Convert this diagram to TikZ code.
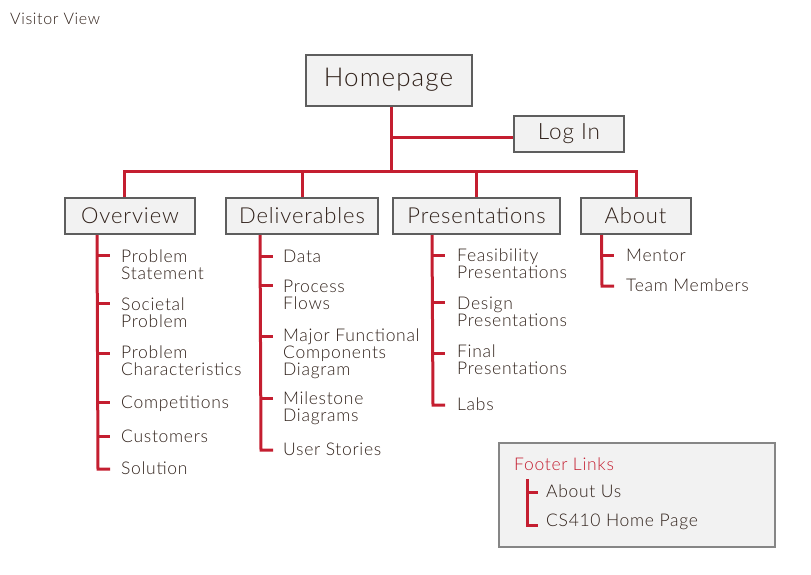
\documentclass[tikz,border=0pt]{standalone}
\usepackage{fontspec}
\setmainfont{Lato Light}[LetterSpace=4]
\definecolor{txt}{HTML}{2F2019}
\definecolor{lred}{HTML}{C41E30}
\definecolor{boxfill}{HTML}{F2F2F2}
\definecolor{boxline}{HTML}{5E5E5E}
\tikzset{
  link/.style={draw=lred, line width=3pt},
  pagebox/.style={draw=boxline, line width=2pt, fill=boxfill, inner sep=0pt, text=txt, font=\fontsize{22}{22}\selectfont},
  item/.style={text=txt, inner sep=0pt, anchor=north west, align=left, font=\fontsize{17.5}{17}\selectfont},
}
\begin{document}
\begin{tikzpicture}[x=1pt,y=-1pt]
\useasboundingbox (0,0) rectangle (811,574);
\node[text=txt, inner sep=0pt, anchor=base west, font=\fontsize{16}{16}\selectfont] (title) at (10,24) {Visitor View};

\node[pagebox, minimum width=166pt, minimum height=51pt, font=\fontsize{26}{26}\selectfont] (home) at (388.5,80) {Homepage};
\node[pagebox, minimum width=110pt, minimum height=36pt, font=\fontsize{22.5}{22.5}\selectfont] (login) at (569,134) {Log In};
\node[pagebox, minimum width=130pt, minimum height=36pt] (overview) at (130,216) {Overview};
\node[pagebox, minimum width=152pt, minimum height=36pt] (deliv) at (302,216) {Deliverables};
\node[pagebox, minimum width=167pt, minimum height=36pt] (pres) at (476.5,216) {Presentations};
\node[pagebox, minimum width=110pt, minimum height=36pt] (about) at (635.5,216) {About};

\coordinate (bar) at (391,171.5);
\draw[link] ([xshift=2.5pt]home.south) -- (bar);
\draw[link] ([xshift=2.5pt]home.south |- 0,137) -- ([yshift=-3pt]login.west);
\draw[link] ([xshift=-6pt]overview.north) |- (bar) -| ([xshift=0.5pt]about.north);
\draw[link] (deliv.north) -- (deliv.north |- bar);
\draw[link] (pres.north) -- (pres.north |- bar);

% Overview list
\node[item] (o1) at (121,250) {Problem\\Statement};
\node[item] (o2) at (121,298) {Societal\\Problem};
\node[item] (o3) at (121,346) {Problem\\Characteristics};
\node[item] (o4) at (121,396) {Competitions};
\node[item] (o5) at (121,430) {Customers};
\node[item] (o6) at (121,462) {Solution};
\draw[link] ([xshift=33pt]overview.south west) -- (98,469) -- (110,469);
\foreach \y in {255,303,353,402,436} \draw[link] (98,\y) -- (110,\y);

% Deliverables list
\node[item] (d1) at (283,250) {Data};
\node[item] (d2) at (283,280) {Process\\Flows};
\node[item] (d3) at (283,329) {Major Functional\\Components\\Diagram};
\node[item] (d4) at (283,392) {Milestone\\Diagrams};
\node[item] (d5) at (283,443) {User Stories};
\draw[link] ([xshift=35pt]deliv.south west) -- (261,450) -- (273,450);
\foreach \y in {256,285,336,398} \draw[link] (261,\y) -- (273,\y);

% Presentations list
\node[item] (p1) at (457,249) {Feasibility\\Presentations};
\node[item] (p2) at (457,297) {Design\\Presentations};
\node[item] (p3) at (457,345) {Final\\Presentations};
\node[item] (p4) at (457,398) {Labs};
\draw[link] ([xshift=40pt]pres.south west) -- (433,405) -- (445,405);
\foreach \y in {255,302,353} \draw[link] (433,\y) -- (445,\y);

% About list
\node[item] (a1) at (626,249) {Mentor};
\node[item] (a2) at (626,279) {Team Members};
\draw[link] ([xshift=22pt]about.south west) -- (602,286) -- (614,286);
\draw[link] (602,255) -- (614,255);

% Footer
\node[draw=boxline!75, line width=1.3pt, fill=boxfill, minimum width=276pt, minimum height=104pt, inner sep=0pt] (footer) at (637,495) {};
\node[item, text=lred] (fl) at (514,458) {Footer Links};
\node[item] (f1) at (546,485) {About Us};
\node[item] (f2) at (546,514) {CS410 Home Page};
\draw[link] (527,479) -- (527,525) -- (538,525);
\draw[link] (527,492) -- (538,492);
\end{tikzpicture}
\end{document}
